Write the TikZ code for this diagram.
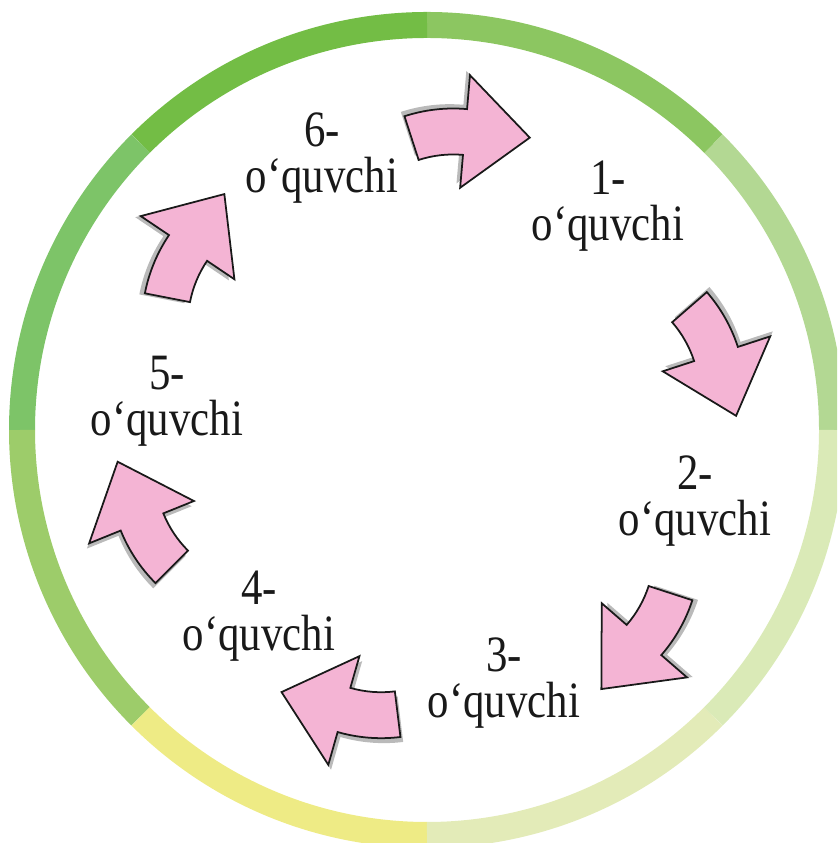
\documentclass[tikz,border=0pt]{standalone}
\usepackage{fontspec}
\setmainfont{Liberation Serif}[FakeStretch=0.84]

\definecolor{ringA}{RGB}{179,216,147}
\definecolor{ringB}{RGB}{140,198,97}
\definecolor{ringC}{RGB}{115,189,69}
\definecolor{ringD}{RGB}{125,196,104}
\definecolor{ringE}{RGB}{157,204,106}
\definecolor{ringF}{RGB}{238,235,133}
\definecolor{ringG}{RGB}{227,235,184}
\definecolor{ringH}{RGB}{218,234,183}
\definecolor{arrowpink}{RGB}{244,180,212}

% outline of one bent arrow, head at the origin pointing along +x
\def\arrowoutline{(-61.7,10.4) arc[start angle=113,end angle=90,radius=158]
  -- (0,57) -- (65,0) -- (0,-56) -- (0,-23)
  arc[start angle=90,end angle=113,radius=112] -- cycle}

\tikzset{
  turnarrow/.pic={
    \fill[black!27,shift={(-4,4)}] \arrowoutline;
    \draw[arrowbody] \arrowoutline;
  }
}

\begin{document}
\begin{tikzpicture}[x=0.1mm,y=0.1mm,
    ringpart/.style={line width=2.6mm},
    arrowbody/.style={fill=arrowpink,draw=black!90,line width=0.5pt,line join=miter},
    turnlabel/.style={align=center,inner sep=0pt,text=black!90,
      font=\fontsize{14.5pt}{13pt}\selectfont}]
  \useasboundingbox (0,0) rectangle (837,843);
  \clip (0,0) rectangle (837,843);
  \coordinate (ctr) at (427,413);

  % coloured ring
  \foreach \a/\c in {0/ringA,45/ringB,90/ringC,135/ringD,
                     180/ringE,225/ringF,270/ringG,315/ringH}
    \draw[ringpart,\c] (ctr) ++(\a:405) arc[start angle=\a,delta angle=45,radius=405];

  % arrows
  \foreach \p/\r in {{(465,711)}/-5,{(716,489)}/-72,{(644,203)}/-131,
                     {(344,133)}/164,{(142,321)}/112,{(188,595)}/56}
    \pic[rotate=\r] at \p {turnarrow};

  % pupils
  \node[turnlabel] (p1) at (608,637) {1-\\o‘quvchi};
  \node[turnlabel] (p2) at (695,342) {2-\\o‘quvchi};
  \node[turnlabel] (p3) at (504,160) {3-\\o‘quvchi};
  \node[turnlabel] (p4) at (259,227) {4-\\o‘quvchi};
  \node[turnlabel] (p5) at (167,442) {5-\\o‘quvchi};
  \node[turnlabel] (p6) at (322,685) {6-\\o‘quvchi};
\end{tikzpicture}
\end{document}
